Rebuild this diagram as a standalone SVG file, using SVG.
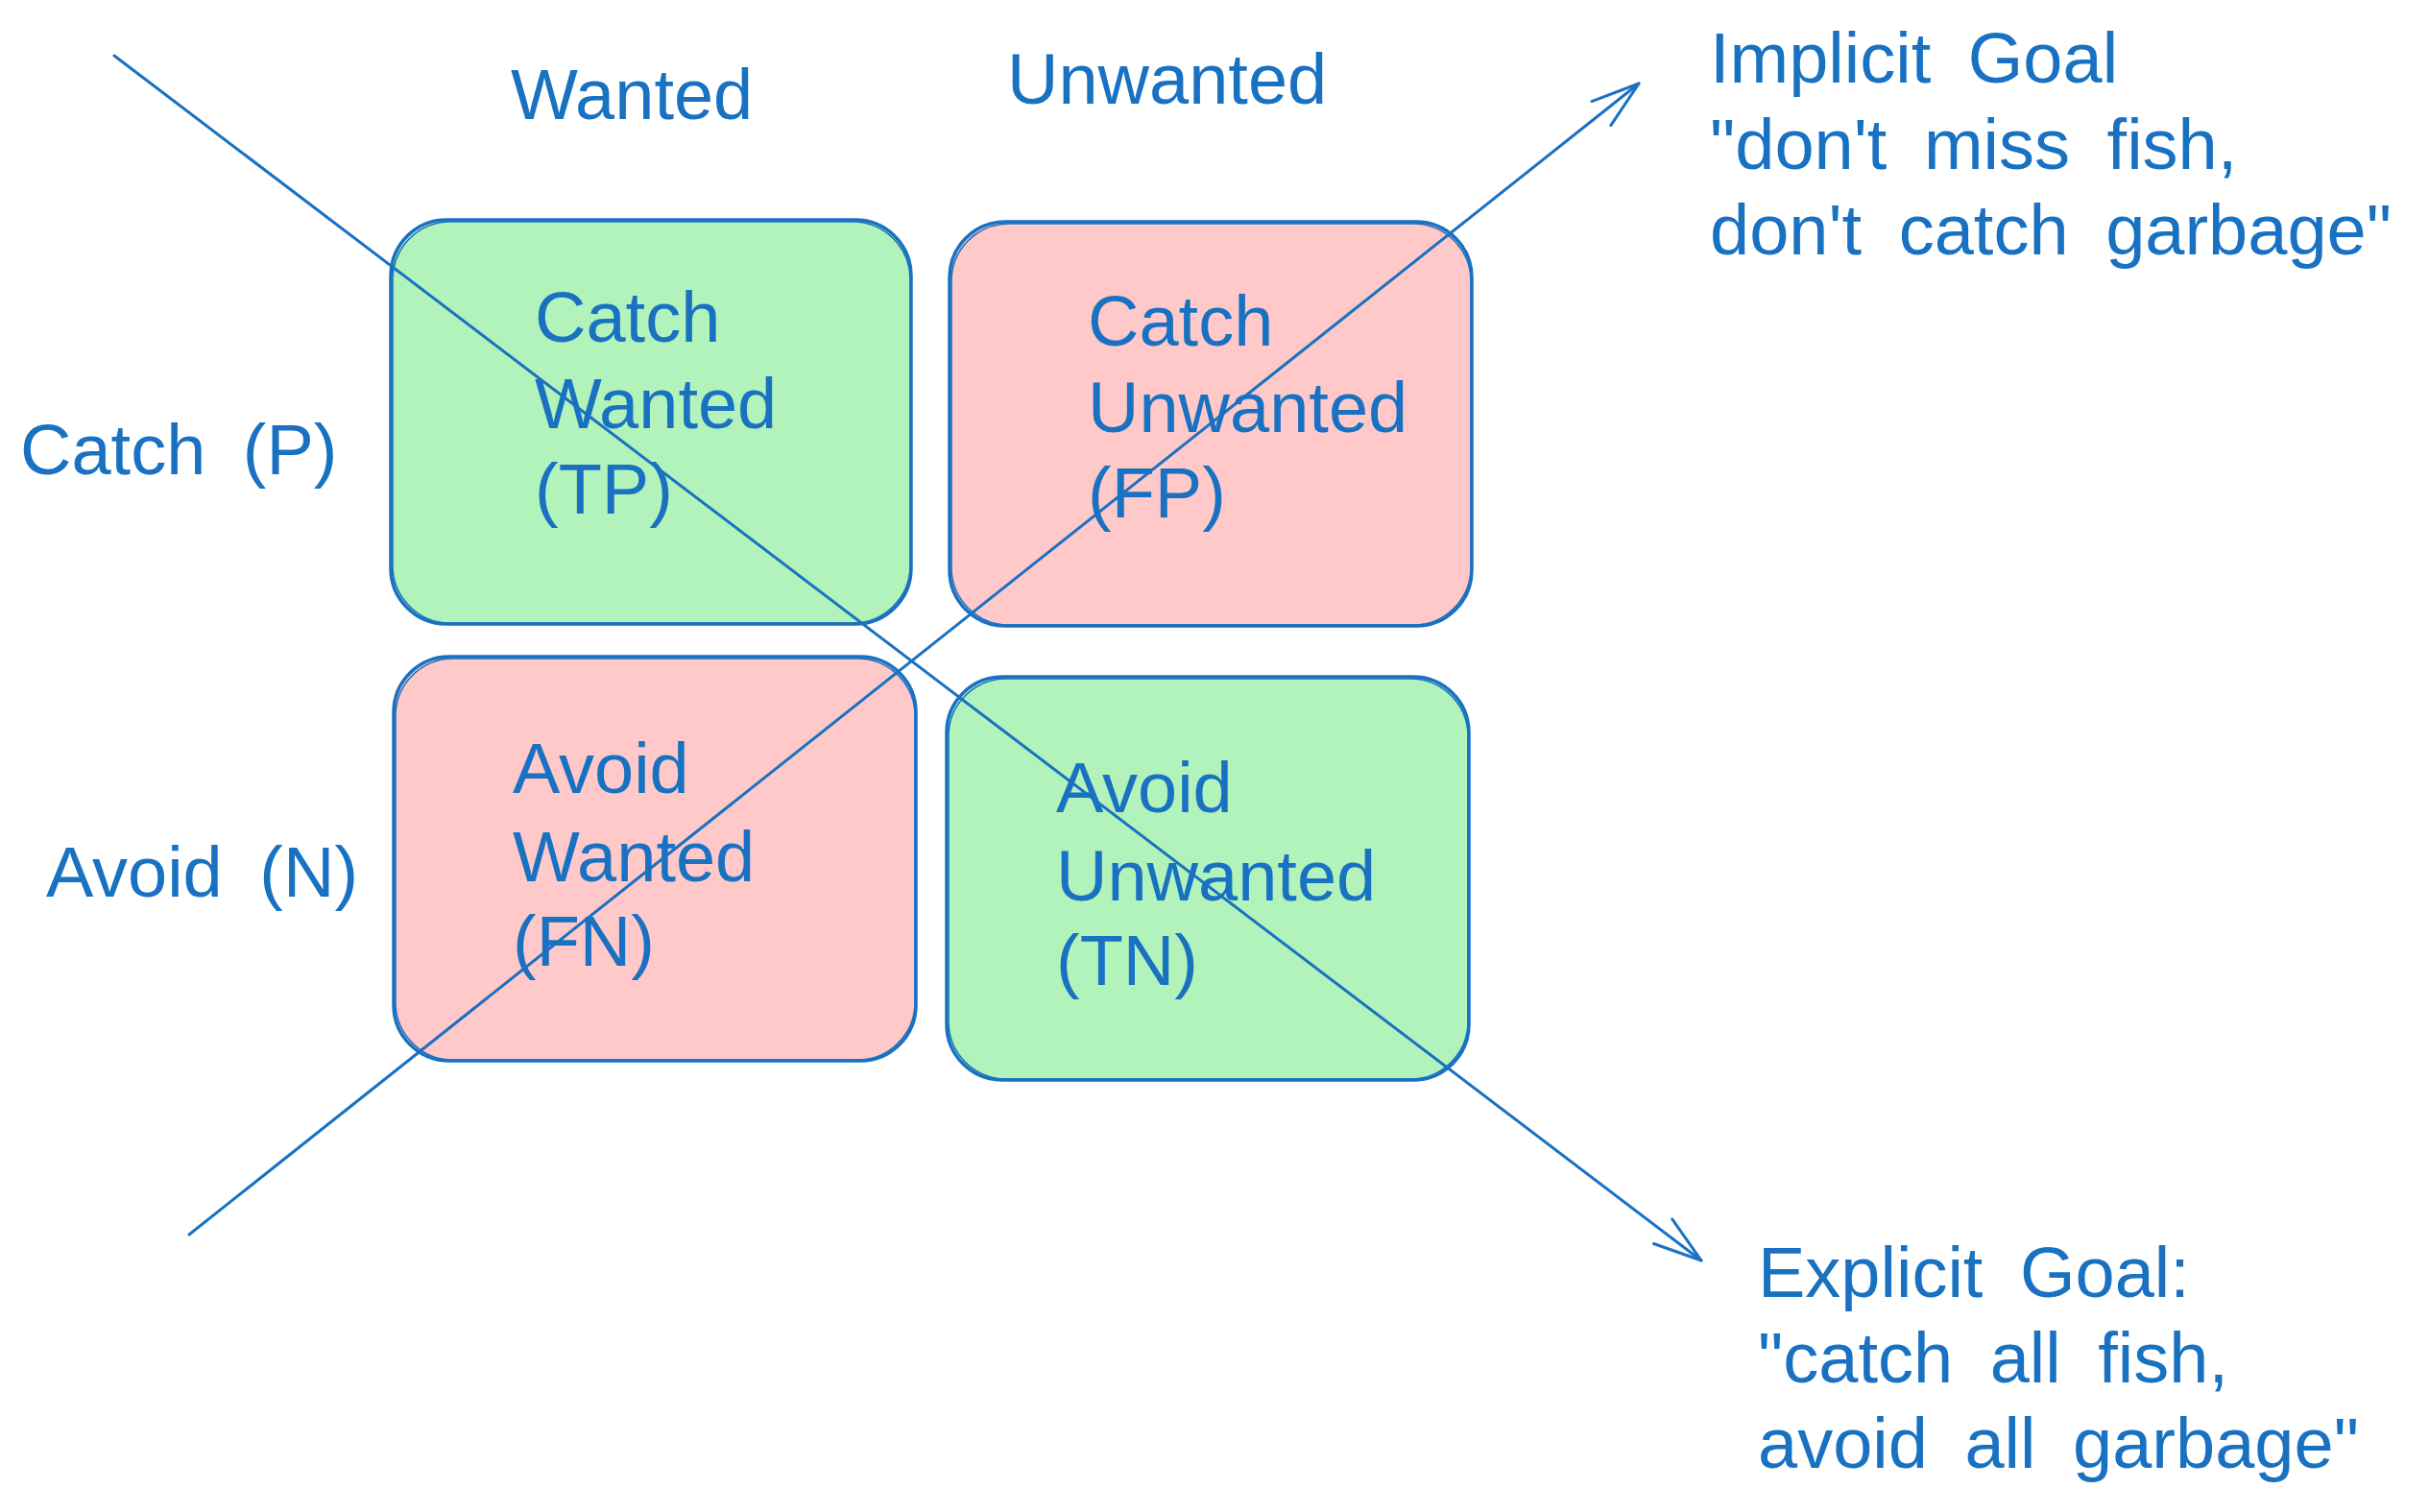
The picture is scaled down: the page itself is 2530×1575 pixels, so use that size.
<svg xmlns="http://www.w3.org/2000/svg" width="2530" height="1575" viewBox="0 0 2530 1575">
<defs>
<style>
.t{font-family:"Liberation Sans",Arial,sans-serif;font-size:74px;fill:#1971c2;word-spacing:18px;}
.box{stroke:#1971c2;stroke-width:3.5;}
.box2{fill:none;stroke:#1971c2;stroke-width:1.5;}
.g{fill:#b2f2bb;}
.r{fill:#ffc9c9;}
.ln{fill:none;stroke:#1971c2;stroke-width:3;stroke-linecap:round;}
</style>
<marker id="ah" markerUnits="userSpaceOnUse" viewBox="-60 -25 70 50" refX="0" refY="0" markerWidth="70" markerHeight="50" orient="auto">
<path d="M-50,-16 L0,0 L-50,16" fill="none" stroke="#1971c2" stroke-width="3" stroke-linecap="round" stroke-linejoin="round"/>
</marker>
</defs>
<rect width="2530" height="1575" fill="#ffffff"/>

<g id="node-tp">
<rect class="box g" x="407" y="229" width="542" height="421" rx="58"/>
<rect class="box2" x="409" y="231" width="539" height="418" rx="60"/>
<text class="t" x="557" y="356">Catch</text>
<text class="t" x="557" y="446">Wanted</text>
<text class="t" x="557" y="535">(TP)</text>
</g>
<g id="node-fp">
<rect class="box r" x="989" y="231" width="544" height="421" rx="58"/>
<rect class="box2" x="991" y="233" width="541" height="418" rx="60"/>
<text class="t" x="1133" y="360">Catch</text>
<text class="t" x="1133" y="450">Unwanted</text>
<text class="t" x="1133" y="539">(FP)</text>
</g>
<g id="node-fn">
<rect class="box r" x="410" y="684" width="544" height="421" rx="58"/>
<rect class="box2" x="412" y="686" width="541" height="418" rx="60"/>
<text class="t" x="534" y="826">Avoid</text>
<text class="t" x="534" y="918">Wanted</text>
<text class="t" x="534" y="1006">(FN)</text>
</g>
<g id="node-tn">
<rect class="box g" x="986" y="705" width="544" height="420" rx="58"/>
<rect class="box2" x="988" y="707" width="541" height="417" rx="60"/>
<text class="t" x="1100" y="846">Avoid</text>
<text class="t" x="1100" y="938">Unwanted</text>
<text class="t" x="1100" y="1026">(TN)</text>
</g>

<g id="labels">
<text class="t" x="532" y="124">Wanted</text>
<text class="t" x="1049" y="108">Unwanted</text>
<text class="t" x="21" y="494">Catch (P)</text>
<text class="t" x="48" y="934">Avoid (N)</text>
</g>

<g id="goal-implicit">
<text class="t" x="1781" y="86">Implicit Goal</text>
<text class="t" x="1781" y="176">"don't miss fish,</text>
<text class="t" x="1781" y="265">don't catch garbage"</text>
</g>
<g id="goal-explicit">
<text class="t" x="1831" y="1351">Explicit Goal:</text>
<text class="t" x="1831" y="1440">"catch all fish,</text>
<text class="t" x="1831" y="1529">avoid all garbage"</text>
</g>

<g id="connectors">
<path class="ln" d="M119,58 L1772,1313" marker-end="url(#ah)"/>
<path class="ln" d="M197,1286 L1707,87" marker-end="url(#ah)"/>
</g>
</svg>
